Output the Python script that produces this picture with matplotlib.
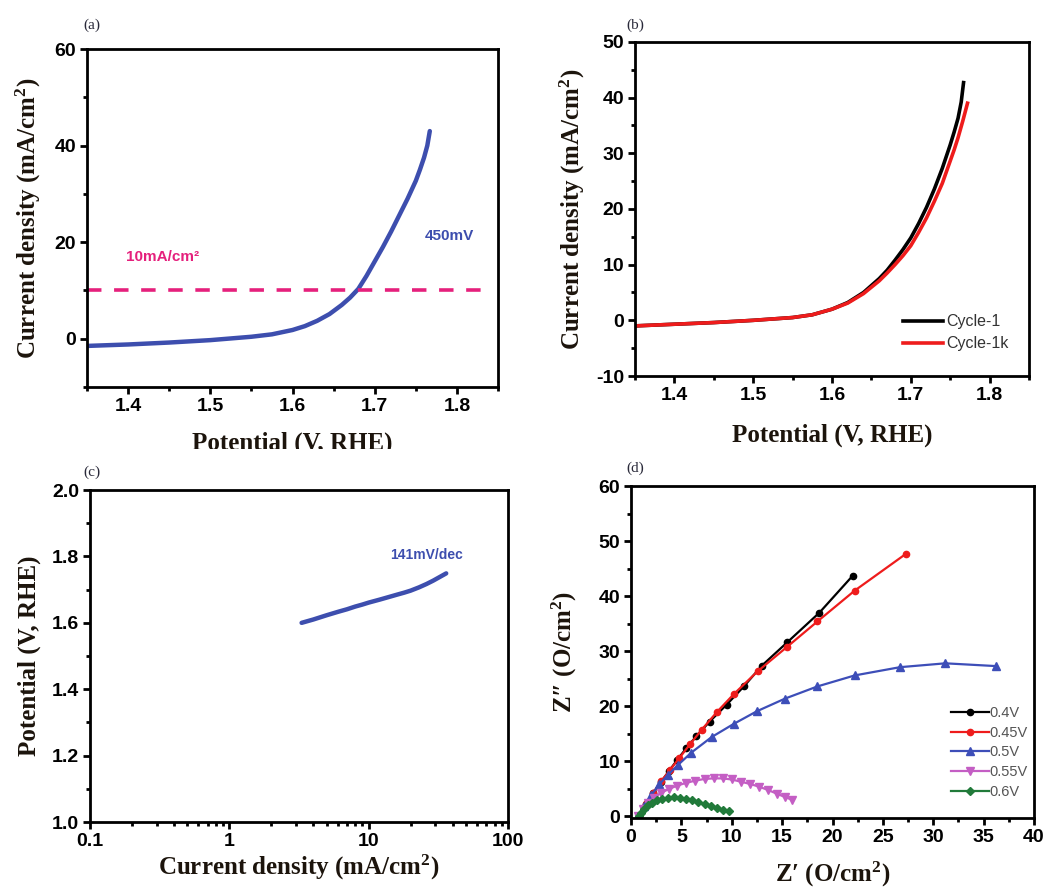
import matplotlib
matplotlib.use('Agg')
import numpy as np
import matplotlib.pyplot as plt
from matplotlib.ticker import MultipleLocator, FixedLocator, FixedFormatter, LogLocator, NullFormatter
from matplotlib.transforms import Bbox, TransformedBbox

plt.rcParams['mathtext.fontset'] = 'custom'
plt.rcParams['mathtext.rm'] = 'Liberation Serif:bold'
plt.rcParams['mathtext.it'] = 'Liberation Serif:bold'
plt.rcParams['mathtext.bf'] = 'Liberation Serif:bold'
plt.rcParams['axes.unicode_minus'] = False

#---------------------------------------------------------------
# (a) LSV curve
lsv_E = [1.35, 1.40, 1.45, 1.50, 1.55, 1.575, 1.60, 1.615, 1.63, 1.645, 1.66, 1.67, 1.68, 1.69,
         1.70, 1.71, 1.72, 1.73, 1.74, 1.75, 1.755, 1.76, 1.764, 1.767]
lsv_j = [-1.5, -1.2, -0.8, -0.3, 0.4, 0.9, 1.8, 2.6, 3.7, 5.1, 7.0, 8.5, 10.3, 13.0,
         16.0, 19.0, 22.2, 25.6, 29.0, 32.7, 35.0, 37.5, 40.0, 43.0]
ref_j = 10.0

# (b) stability
cyc1_E = [1.35, 1.40, 1.45, 1.50, 1.55, 1.575, 1.60, 1.62, 1.64, 1.66, 1.67, 1.68, 1.69, 1.70,
          1.71, 1.72, 1.73, 1.74, 1.75, 1.755, 1.76, 1.764, 1.767]
cyc1_j = [-1.0, -0.7, -0.4, 0.0, 0.5, 1.0, 2.0, 3.2, 5.0, 7.5, 9.0, 10.8, 12.7, 14.8,
          17.4, 20.3, 23.6, 27.3, 31.5, 33.8, 36.3, 39.2, 42.7]
cyc1k_E = [1.35, 1.40, 1.45, 1.50, 1.55, 1.575, 1.60, 1.62, 1.64, 1.66, 1.67, 1.68, 1.69, 1.70,
           1.71, 1.72, 1.73, 1.74, 1.75, 1.755, 1.76, 1.766, 1.772]
cyc1k_j = [-1.0, -0.7, -0.4, 0.0, 0.5, 1.0, 2.0, 3.1, 4.8, 7.1, 8.5, 10.0, 11.6, 13.4,
           15.8, 18.4, 21.4, 24.6, 28.6, 30.6, 32.8, 35.8, 39.0]

# (c) Tafel
tafel_j = [3.3, 4.0, 5.0, 6.0, 7.0, 8.0, 9.0, 10.0, 12.0, 14.0, 16.0, 18.0, 20.0, 23.0, 26.0, 29.0, 32.0, 36.0]
tafel_E = [1.600, 1.610, 1.623, 1.633, 1.641, 1.649, 1.655, 1.661, 1.670, 1.678, 1.685, 1.691,
           1.697, 1.707, 1.717, 1.727, 1.737, 1.749]

# (d) Nyquist
v04_x = [0.8, 1.5, 2.2, 3.0, 3.8, 4.6, 5.5, 6.5, 7.8, 9.5, 11.2, 13.0, 15.5, 18.7, 22.0]
v04_y = [0.0, 2.2, 4.2, 6.3, 8.3, 10.3, 12.4, 14.6, 17.2, 20.3, 23.6, 27.4, 31.6, 37.0, 43.7]
v045_x = [0.8, 1.5, 2.2, 3.0, 3.9, 4.8, 5.9, 7.0, 8.5, 10.2, 12.6, 15.5, 18.5, 22.2, 27.3]
v045_y = [0.0, 2.2, 4.3, 6.4, 8.5, 10.6, 13.2, 15.7, 18.9, 22.2, 26.4, 30.8, 35.4, 41.0, 47.7]
v05_x = [0.7, 1.3, 2.0, 2.8, 3.7, 4.7, 6.0, 8.0, 10.2, 12.5, 15.3, 18.5, 22.2, 26.7, 31.2, 36.2]
v05_y = [0.0, 1.8, 3.8, 5.8, 7.6, 9.4, 11.6, 14.4, 16.8, 19.1, 21.4, 23.6, 25.6, 27.1, 27.8, 27.3]
v055_x = [0.7, 1.2, 1.7, 2.3, 3.0, 3.8, 4.6, 5.5, 6.4, 7.3, 8.2, 9.1, 10.0, 10.9, 11.8, 12.7, 13.6, 14.5, 15.3, 16.0]
v055_y = [0.0, 1.3, 2.4, 3.4, 4.3, 5.0, 5.6, 6.1, 6.5, 6.8, 6.9, 6.9, 6.7, 6.3, 5.9, 5.4, 4.8, 4.1, 3.5, 3.0]
v06_x = [0.8, 1.0, 1.3, 1.7, 2.1, 2.6, 3.1, 3.7, 4.3, 4.9, 5.5, 6.1, 6.7, 7.3, 7.9, 8.5, 9.1, 9.7]
v06_y = [0.0, 0.7, 1.4, 2.0, 2.5, 2.9, 3.2, 3.4, 3.5, 3.4, 3.2, 2.9, 2.6, 2.2, 1.8, 1.5, 1.2, 1.0]
eis_labels = ['0.4V', '0.45V', '0.5V', '0.55V', '0.6V']

#---------------------------------------------------------------
blue = '#3d4eae'
pink = '#e5207c'
lab_col = '#1c140c'
serif = ['Liberation Serif', 'DejaVu Serif']
sans = ['Liberation Sans', 'DejaVu Sans']

fig = plt.figure(figsize=(10.52, 8.91), dpi=100)
axa = fig.add_axes([0.0827, 0.5657, 0.3907, 0.3793])
axb = fig.add_axes([0.6036, 0.5780, 0.3745, 0.3749])
axc = fig.add_axes([0.0856, 0.0774, 0.3973, 0.3726])
axd = fig.add_axes([0.5998, 0.0819, 0.3831, 0.3726])

def style(ax):
    for s in ax.spines.values():
        s.set_linewidth(2.0)
    ax.tick_params(which='both', direction='out', top=False, right=False, width=2.0)
    ax.tick_params(which='major', length=5, labelsize=14, pad=3)
    ax.tick_params(which='minor', length=3)
    for lab in ax.get_xticklabels() + ax.get_yticklabels():
        lab.set_fontfamily(sans)
        lab.set_fontweight('bold')

#-- (a)
axa.plot(lsv_E, lsv_j, color=blue, lw=3.2, solid_capstyle='round', solid_joinstyle='round')
axa.axhline(ref_j, xmin=0.0, xmax=0.98, color=pink, lw=2.6, ls=(0, (4, 3.5)))
axa.text(1.397, 16.0, '10mA/cm²', color=pink, fontsize=11, fontweight='bold', family=sans)
axa.text(1.761, 21.2, '450mV', color=blue, fontsize=11, fontweight='bold', family=sans, va='center')
axa.set_xlim(1.35, 1.85)
axa.set_ylim(-10, 60)
axa.xaxis.set_major_locator(FixedLocator([1.4, 1.5, 1.6, 1.7, 1.8]))
axa.xaxis.set_minor_locator(MultipleLocator(0.05))
axa.yaxis.set_major_locator(MultipleLocator(20))
axa.yaxis.set_minor_locator(MultipleLocator(10))
style(axa)
axa.set_ylabel('Current density (mA/cm$^2$)', fontsize=18, fontweight='bold', family=serif, color=lab_col, labelpad=8)
xla = axa.set_xlabel('Potential (V, RHE)', fontsize=18, fontweight='bold', family=serif, color=lab_col, labelpad=12)

#-- (b)
axb.plot(cyc1_E, cyc1_j, color='black', lw=2.6, label='Cycle-1', solid_joinstyle='round')
axb.plot(cyc1k_E, cyc1k_j, color='#ee1c1c', lw=2.6, label='Cycle-1k', solid_joinstyle='round')
axb.set_xlim(1.35, 1.85)
axb.set_ylim(-10, 50)
axb.xaxis.set_major_locator(FixedLocator([1.4, 1.5, 1.6, 1.7, 1.8]))
axb.xaxis.set_minor_locator(MultipleLocator(0.05))
axb.yaxis.set_major_locator(MultipleLocator(10))
axb.yaxis.set_minor_locator(MultipleLocator(5))
style(axb)
axb.set_ylabel('Current density (mA/cm$^2$)', fontsize=18, fontweight='bold', family=serif, color=lab_col, labelpad=6)
xlb = axb.set_xlabel('Potential (V, RHE)', fontsize=18, fontweight='bold', family=serif, color=lab_col, labelpad=14)
legb = axb.legend(loc='lower left', bbox_to_anchor=(0.66, 0.05), frameon=False, handlelength=2.5,
                  handletextpad=0.2, labelspacing=0.45, borderpad=0, prop={'family': sans, 'size': 11.5})
for t in legb.get_texts():
    t.set_color('#333333')

#-- (c)
axc.plot(tafel_j, tafel_E, color=blue, lw=3.2, solid_capstyle='round', solid_joinstyle='round')
axc.text(14.2, 1.804, '141mV/dec', color=blue, fontsize=10, fontweight='bold', family=sans, va='center')
axc.set_xscale('log')
axc.set_xlim(0.1, 100)
axc.set_ylim(1.0, 2.0)
axc.xaxis.set_major_locator(FixedLocator([0.1, 1, 10, 100]))
axc.xaxis.set_major_formatter(FixedFormatter(['0.1', '1', '10', '100']))
axc.xaxis.set_minor_locator(LogLocator(base=10, subs=np.arange(2, 10)))
axc.xaxis.set_minor_formatter(NullFormatter())
axc.yaxis.set_major_locator(MultipleLocator(0.2))
axc.yaxis.set_minor_locator(MultipleLocator(0.1))
axc.yaxis.set_major_formatter(matplotlib.ticker.FormatStrFormatter('%.1f'))
style(axc)
axc.set_ylabel('Potential (V, RHE)', fontsize=18, fontweight='bold', family=serif, color=lab_col, labelpad=8)
axc.set_xlabel('Current density (mA/cm$^2$)', fontsize=18, fontweight='bold', family=serif, color=lab_col, labelpad=2)

#-- (d)
axd.plot(v04_x, v04_y, color='black', lw=1.6, marker='o', ms=4.5, label=eis_labels[0])
axd.plot(v045_x, v045_y, color='#ee1c1c', lw=1.6, marker='o', ms=4.5, label=eis_labels[1])
axd.plot(v05_x, v05_y, color='#3d4eb8', lw=1.6, marker='^', ms=5.5, label=eis_labels[2])
axd.plot(v055_x, v055_y, color='#c45ec4', lw=1.6, marker='v', ms=6, label=eis_labels[3])
axd.plot(v06_x, v06_y, color='#217a3a', lw=1.6, marker='D', ms=4.5, label=eis_labels[4])
axd.set_xlim(0, 40)
axd.set_ylim(-0.3, 60)
axd.xaxis.set_major_locator(MultipleLocator(5))
axd.xaxis.set_minor_locator(MultipleLocator(2.5))
axd.yaxis.set_major_locator(MultipleLocator(10))
axd.yaxis.set_minor_locator(MultipleLocator(5))
style(axd)
axd.set_ylabel('Z″ (O/cm$^2$)', fontsize=18, fontweight='bold', family=serif, color=lab_col, labelpad=14)
axd.set_xlabel('Z′ (O/cm$^2$)', fontsize=18, fontweight='bold', family=serif, color=lab_col, labelpad=10)
legd = axd.legend(loc='lower left', bbox_to_anchor=(0.775, 0.035), frameon=False, handlelength=2.6,
                  handletextpad=0.05, labelspacing=0.4, borderpad=0, prop={'family': sans, 'size': 10.5})
for t in legd.get_texts():
    t.set_color('#555555')

#-- panel letters
for lbl, x, y in [('(a)', 0.079, 0.972), ('(b)', 0.595, 0.972), ('(c)', 0.079, 0.470), ('(d)', 0.595, 0.475)]:
    fig.text(x, y, lbl, fontsize=11, family=serif, color='#2a2a3a', ha='left', va='center')

# top-row x labels are cut at the panel boundary
clipbox = TransformedBbox(Bbox([[0, 0.4960], [1, 1]]), fig.transFigure)
for lab in (xla, xlb):
    lab.set_clip_box(clipbox)
    lab.set_clip_on(True)

fig.savefig('out.png', dpi=100)
